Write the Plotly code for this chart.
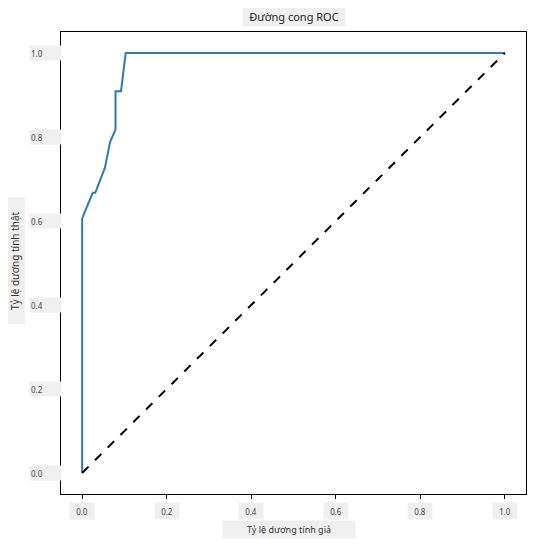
import plotly.graph_objects as go

# ROC curve values
fpr = [0.0, 0.0, 0.025, 0.031, 0.054, 0.066, 0.079, 0.079, 0.092, 0.103, 1.0]
tpr = [0.0, 0.606, 0.667, 0.667, 0.727, 0.788, 0.818, 0.909, 0.909, 1.0, 1.0]
chance_x = [0.0, 1.0]
chance_y = [0.0, 1.0]

tick_vals = [0.0, 0.2, 0.4, 0.6, 0.8, 1.0]
tick_text = ["0.0", "0.2", "0.4", "0.6", "0.8", "1.0"]

title_text = "Đường cong ROC"
x_title = "Tỷ lệ dương tính giả"
y_title = "Tỷ lệ dương tính thật"

font = "Noto Sans"
box = "#efefef"

fig = go.Figure()
fig.add_trace(go.Scatter(x=fpr, y=tpr, mode="lines",
                         line=dict(color="#2b7bb4", width=2)))
fig.add_trace(go.Scatter(x=chance_x, y=chance_y, mode="lines",
                         line=dict(color="black", width=2, dash="dash")))

axis_style = dict(
    range=[-0.05, 1.05], showgrid=False, zeroline=False,
    showline=True, linecolor="black", linewidth=1.3, mirror=True,
    ticks="outside", ticklen=4, tickcolor="black", tickwidth=1,
    tickvals=tick_vals, showticklabels=False,
)

annotations = []
# x tick labels (boxed, like the reference)
for v, t in zip(tick_vals, tick_text):
    annotations.append(dict(
        x=v, xref="x", y=0, yref="paper", yshift=-17, yanchor="middle",
        text=t, showarrow=False, bgcolor=box, width=22, height=14,
        font=dict(family=font, size=8, color="#444")))
# y tick labels
for v, t in zip(tick_vals, tick_text):
    annotations.append(dict(
        x=0, xref="paper", xshift=-16, xanchor="center", y=v, yref="y",
        text=t, showarrow=False, bgcolor=box, width=29, height=12, align="left",
        font=dict(family=font, size=8, color="#444")))

annotations.append(dict(
    x=0.5, xref="paper", y=1, yref="paper", yshift=16, yanchor="middle",
    text=title_text, showarrow=False, bgcolor=box, width=100, height=17,
    font=dict(family=font, size=11, color="#222")))
annotations.append(dict(
    x=0.49, xref="paper", y=0, yref="paper", yshift=-35, yanchor="middle",
    text=x_title, showarrow=False, bgcolor=box, width=130, height=15,
    font=dict(family=font, size=9, color="#333")))
annotations.append(dict(
    x=0, xref="paper", xshift=-46, xanchor="center", y=0.505, yref="paper",
    text=y_title, showarrow=False, bgcolor=box, width=124, height=16,
    textangle=-90, font=dict(family=font, size=10, color="#333")))

# page body adds an 8px offset, so the figure is 8px smaller here
fig.update_layout(
    width=528, height=539,
    margin=dict(l=53, r=10, t=24, b=53),
    plot_bgcolor="white", paper_bgcolor="white",
    showlegend=False,
    xaxis=axis_style, yaxis=axis_style,
    annotations=annotations,
)

fig.write_html("out.html")
